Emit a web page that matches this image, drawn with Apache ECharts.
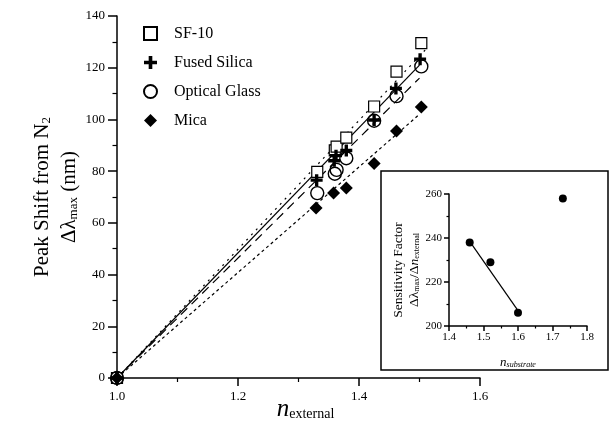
<!DOCTYPE html>
<html>
<head>
<meta charset="utf-8">
<script src="https://cdn.jsdelivr.net/npm/echarts@6/dist/echarts.min.js"></script>
<style>
    html, body {margin: 0; padding: 0; background: #fff;}
    #chart {width: 610px; height: 433px;}
</style>
</head>
<body>
<div id="chart"></div>
<script>
// main plot: peak shift vs external index
const nSF10 = [1.0, 1.331, 1.360, 1.363, 1.379, 1.425, 1.462, 1.503];
const sf10 = [0, 79.7, 88, 89.5, 93, 105, 118.5, 129.5];
const nFused = [1.0, 1.330, 1.359, 1.362, 1.379, 1.425, 1.461, 1.501];
const fused = [0, 76.5, 84, 86, 88, 99.8, 112, 123.3];
const nOptical = [1.0, 1.331, 1.360, 1.363, 1.379, 1.425, 1.462, 1.503];
const optical = [0, 71.5, 79, 80.5, 85, 99.5, 109, 120.5];
const nMica = [1.0, 1.329, 1.358, 1.379, 1.425, 1.462, 1.503];
const mica = [0, 65.7, 71.5, 73.5, 83, 95.5, 104.8];

// fitted lines (start, end)
const sf10FitX = [1.0, 1.51];
const sf10FitY = [0, 127];
const fusedFitX = [1.0, 1.50];
const fusedFitY = [0, 121];
const opticalFitX = [1.0, 1.50];
const opticalFitY = [0, 116];
const micaFitX = [1.0, 1.50];
const micaFitY = [0, 102];

// inset: sensitivity factor vs substrate index
const nSubstrate = [1.46, 1.52, 1.60, 1.73];
const sensitivity = [238, 229, 206, 258];
const subFitX = [1.46, 1.60];
const subFitY = [238.5, 207];

const FONT = '"Liberation Serif", "Times New Roman", serif';
const zip = (xs, ys) => xs.map((x, i) => [x, ys[i]]);

const chart = echarts.init(document.getElementById('chart'));

const axisCommon = (tickLen) => ({
    type: 'value',
    nameMoveOverlap: false,
    axisLine: {show: true, onZero: false, lineStyle: {color: '#000', width: 1.5}},
    axisTick: {show: true, inside: false, length: tickLen, lineStyle: {color: '#000', width: 1.5}},
    minorTick: {show: true, splitNumber: 2, length: tickLen / 2, lineStyle: {color: '#000', width: 1.2}},
    splitLine: {show: false}
});

const fitLine = (name, xs, ys, type) => ({
    name: name, type: 'line', xAxisIndex: 0, yAxisIndex: 0,
    data: zip(xs, ys), showSymbol: false, silent: true, z: 1,
    lineStyle: {color: '#000', width: 1.2, type: type}
});

const plus = 'path://M3.6,0H6.4V3.6H10V6.4H6.4V10H3.6V6.4H0V3.6H3.6Z';

chart.setOption({
    animation: false,
    backgroundColor: '#fff',
    textStyle: {fontFamily: FONT, color: '#000'},
    grid: [
        {left: 117, top: 16, width: 363, height: 362},
        {left: 449, top: 194, width: 138, height: 132}
    ],
    legend: {
        orient: 'vertical', left: 138, top: 20, itemWidth: 13, itemHeight: 13, itemGap: 12,
        data: ['SF-10', 'Fused Silica', 'Optical Glass', 'Mica'],
        textStyle: {fontSize: 16, lineHeight: 17, fontFamily: FONT, color: '#000', padding: [0, 0, 0, 12]}
    },
    graphic: [{
        type: 'rect', silent: true,
        shape: {x: 381, y: 171, width: 227, height: 199},
        style: {fill: 'none', stroke: '#000', lineWidth: 1.5}
    }],
    xAxis: [
        Object.assign(axisCommon(8), {
            gridIndex: 0, min: 1.0, max: 1.6, interval: 0.2,
            axisLabel: {color: '#000', fontSize: 13, fontFamily: FONT, margin: 12, formatter: v => v.toFixed(1)},
            name: '{n|n}{s|external}', nameLocation: 'middle', nameGap: 19,
            nameTextStyle: {
                padding: [0, 0, 0, 14],
                rich: {
                    n: {fontSize: 25, fontStyle: 'italic', fontFamily: FONT, color: '#000'},
                    s: {fontSize: 14, fontFamily: FONT, color: '#000', padding: [10, 0, 0, 0]}
                }
            }
        }),
        Object.assign(axisCommon(5), {
            gridIndex: 1, min: 1.4, max: 1.8, interval: 0.1,
            axisLabel: {color: '#000', fontSize: 11, fontFamily: FONT, margin: 6, formatter: v => v.toFixed(1)},
            name: '{n|n}{s|substrate}', nameLocation: 'middle', nameGap: 30,
            nameTextStyle: {
                rich: {
                    n: {fontSize: 13, fontStyle: 'italic', fontFamily: FONT, color: '#000'},
                    s: {fontSize: 8, fontStyle: 'italic', fontFamily: FONT, color: '#000', padding: [5, 0, 0, 0]}
                }
            }
        })
    ],
    yAxis: [
        Object.assign(axisCommon(9), {
            gridIndex: 0, min: 0, max: 140, interval: 20,
            axisLabel: {color: '#000', fontSize: 13, fontFamily: FONT, margin: 12},
            name: '{t|Peak Shift from N}{s|2}\n{t|Δλ}{s|max}{t| (nm)}',
            nameLocation: 'middle', nameGap: 34, nameRotate: 90,
            nameTextStyle: {
                lineHeight: 27,
                rich: {
                    t: {fontSize: 21, fontFamily: FONT, color: '#000', lineHeight: 27},
                    s: {fontSize: 13, fontFamily: FONT, color: '#000', padding: [9, 0, 0, 0]}
                }
            }
        }),
        Object.assign(axisCommon(5), {
            gridIndex: 1, min: 200, max: 260, interval: 20,
            axisLabel: {color: '#000', fontSize: 11, fontFamily: FONT, margin: 7},
            name: '{t|Sensitivity Factor}\n{t|Δλ}{s|max}{t|/Δ}{u|n}{s|external}',
            nameLocation: 'middle', nameGap: 27, nameRotate: 90,
            nameTextStyle: {
                lineHeight: 16, padding: [0, 20, 0, 0],
                rich: {
                    t: {fontSize: 13.5, fontFamily: FONT, color: '#000', lineHeight: 16},
                    u: {fontSize: 13.5, fontStyle: 'italic', fontFamily: FONT, color: '#000', lineHeight: 16},
                    s: {fontSize: 8, fontFamily: FONT, color: '#000', padding: [6, 0, 0, 0]}
                }
            }
        })
    ],
    series: [
        fitLine('sf10 fit', sf10FitX, sf10FitY, [2, 5]),
        fitLine('fused fit', fusedFitX, fusedFitY, 'solid'),
        fitLine('optical fit', opticalFitX, opticalFitY, [9, 6]),
        fitLine('mica fit', micaFitX, micaFitY, [3, 3]),
        {
            name: 'SF-10', type: 'scatter', xAxisIndex: 0, yAxisIndex: 0,
            data: zip(nSF10, sf10), symbol: 'rect', symbolSize: 11,
            itemStyle: {color: '#fff', borderColor: '#000', borderWidth: 1.2, opacity: 1}
        },
        {
            name: 'Fused Silica', type: 'scatter', xAxisIndex: 0, yAxisIndex: 0,
            data: zip(nFused, fused), symbol: plus, symbolSize: 12,
            itemStyle: {color: '#000', opacity: 1}
        },
        {
            name: 'Optical Glass', type: 'scatter', xAxisIndex: 0, yAxisIndex: 0,
            data: zip(nOptical, optical), symbol: 'circle', symbolSize: 13,
            itemStyle: {color: 'rgba(255,255,255,0)', borderColor: '#000', borderWidth: 1.4, opacity: 1}
        },
        {
            name: 'Mica', type: 'scatter', xAxisIndex: 0, yAxisIndex: 0,
            data: zip(nMica, mica), symbol: 'diamond', symbolSize: [13, 13],
            itemStyle: {color: '#000', opacity: 1}
        },
        {
            name: 'inset fit', type: 'line', xAxisIndex: 1, yAxisIndex: 1,
            data: zip(subFitX, subFitY), showSymbol: false, silent: true,
            lineStyle: {color: '#000', width: 1.2}
        },
        {
            name: 'inset', type: 'scatter', xAxisIndex: 1, yAxisIndex: 1,
            data: zip(nSubstrate, sensitivity), symbol: 'circle', symbolSize: 8,
            itemStyle: {color: '#000', opacity: 1}
        }
    ]
});
</script>
</body>
</html>
